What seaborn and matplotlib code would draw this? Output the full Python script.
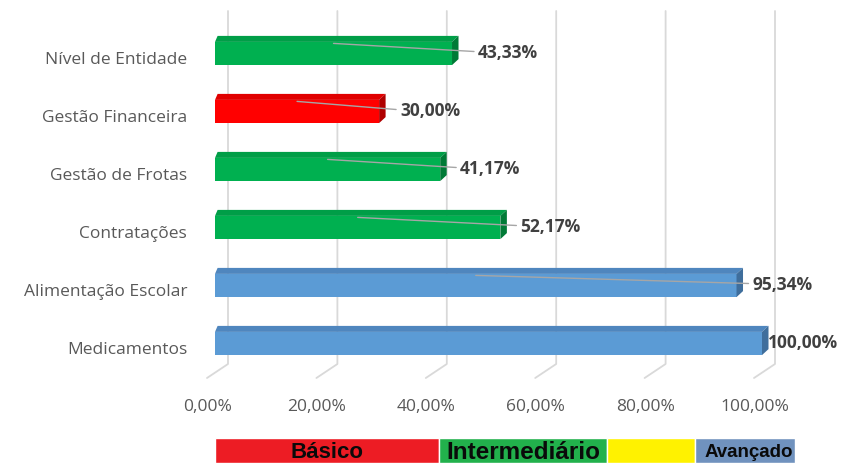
import numpy as np
import pandas as pd
import seaborn as sns
import matplotlib.pyplot as plt
from matplotlib.patches import Polygon

# dados
categorias = ['Nível de Entidade', 'Gestão Financeira', 'Gestão de Frotas',
              'Contratações', 'Alimentação Escolar', 'Medicamentos']
valores = [43.33, 30.00, 41.17, 52.17, 95.34, 100.00]
rotulos = ['43,33%', '30,00%', '41,17%', '52,17%', '95,34%', '100,00%']
niveis = ['Intermediário', 'Básico', 'Intermediário', 'Intermediário', 'Avançado', 'Avançado']
ticks = [0, 20, 40, 60, 80, 100]
tick_labels = ['0,00%', '20,00%', '40,00%', '60,00%', '80,00%', '100,00%']
legenda_nomes = ['Básico', 'Intermediário', '', 'Avançado']
legenda_larguras = [41.1, 30.7, 16.1, 18.3]

cores = {'Básico': '#FF0000', 'Intermediário': '#00B050', 'Avançado': '#5B9BD5'}
cores_topo = {'Básico': '#E00000', 'Intermediário': '#009E47', 'Avançado': '#4F86BE'}
cores_lado = {'Básico': '#B00000', 'Intermediário': '#007A36', 'Avançado': '#3F6E9C'}
cores_legenda = ['#ED1C24', '#22B14C', '#FFF200', '#7092BE']
pad_rotulo = [26, 21, 20, 20, 16, 6]  # px entre fim da barra e o texto

sns.set_style('white')
plt.rcParams['font.family'] = ['Open Sans', 'DejaVu Sans']

fig = plt.figure(figsize=(8.42, 4.64), dpi=100)
ax = fig.add_axes([0, 0, 1, 1])

df = pd.DataFrame({'cat': categorias, 'val': valores, 'nivel': niveis})
sns.barplot(data=df, x='val', y='cat', hue='nivel', palette=cores, dodge=False,
            width=0.4, saturation=1, legend=False, ax=ax, zorder=3, linewidth=0)

sx = 5.47   # px por ponto percentual
sy = 58.0   # px por categoria
x0, y0 = 215, 54.5
ax.set_xlim(-x0 / sx, (842 - x0) / sx)
ax.set_ylim(5 + (464 - (y0 + 5 * sy)) / sy, -y0 / sy)

def py(p):
    return (p - y0) / sy

# grade 3D (parede de fundo + piso)
for t, lab in zip(ticks, tick_labels):
    xb = t + 13 / sx
    ax.plot([xb, xb, t - 8 / sx], [py(12), py(365), py(379)], color='#D9D9D9', lw=1.3, zorder=1)
    ax.text(t - 7.5 / sx, py(407), lab, ha='center', va='center',
            color='#595959', fontsize=12.5)

# faces 3D das barras
h = 0.2
dx, dy = 6.5 / sx, 6 / sy
for i, (v, n) in enumerate(zip(valores, niveis)):
    top = Polygon([(0, i - h), (v, i - h), (v + dx, i - h - dy), (dx * 0.4, i - h - dy)],
                  closed=True, facecolor=cores_topo[n], edgecolor='none', zorder=4)
    side = Polygon([(v, i - h), (v + dx, i - h - dy), (v + dx, i + h - dy), (v, i + h)],
                   closed=True, facecolor=cores_lado[n], edgecolor='none', zorder=4)
    ax.add_patch(top)
    ax.add_patch(side)
    xt = v + pad_rotulo[i] / sx
    if pad_rotulo[i] > 10:
        ax.plot([v / 2, xt - 4 / sx], [i - h + 1.5 / sy, i - 2 / sy],
                color='#A6A6A6', lw=1, zorder=5)
    ax.text(xt, i - 2 / sy, rotulos[i], ha='left', va='center',
            color='#404040', fontsize=12.5, fontweight='bold', zorder=6)
    ax.text(-28 / sx, i + 5.5 / sy, categorias[i], ha='right', va='center',
            color='#595959', fontsize=12.5)

ax.set_yticks([])
ax.set_xticks([])
ax.set_xlabel('')
ax.set_ylabel('')
sns.despine(ax=ax, left=True, bottom=True)

# faixa de legenda
lax = fig.add_axes([215 / 842, 0, 580 / 842, 25 / 464])
esq = np.concatenate([[0], np.cumsum(legenda_larguras)[:-1]])
lax.barh(0, legenda_larguras, left=esq, height=1, color=cores_legenda)
tamanhos = [16, 17.5, 16, 13.5]
for nome, l, w, fs in zip(legenda_nomes, esq, legenda_larguras, tamanhos):
    lax.text(l + w / 2 + (0.6 if fs < 14 else 0), -0.05, nome, ha='center', va='center',
             fontsize=fs, fontweight='bold', color='#0A0A0A',
             family=['Liberation Sans', 'DejaVu Sans'])
lax.set_xlim(0, sum(legenda_larguras))
lax.set_ylim(-0.5, 0.5)
lax.axis('off')

fig.savefig('out.png', dpi=100)
